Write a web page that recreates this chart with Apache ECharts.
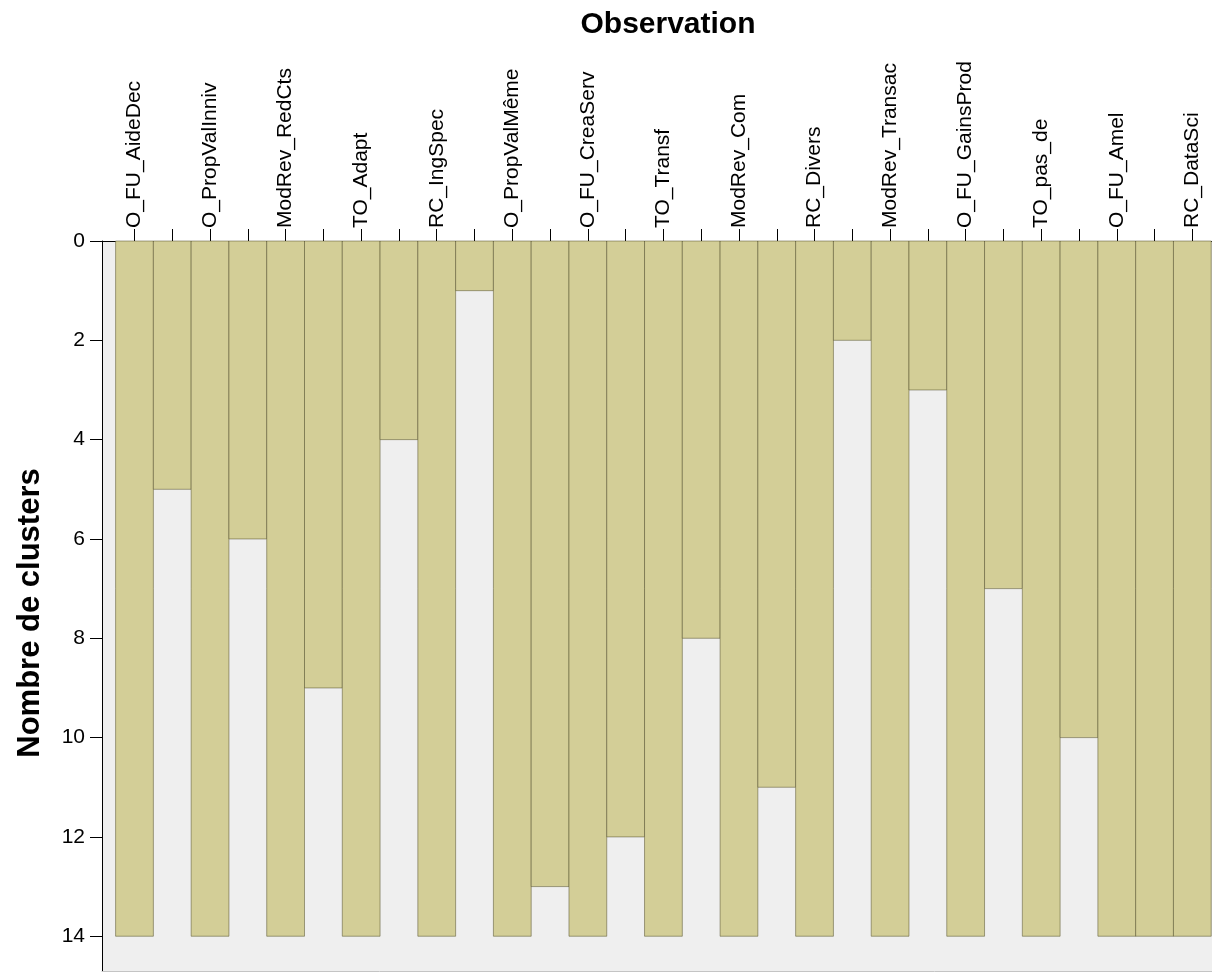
<!DOCTYPE html>
<html>
<head>
<meta charset="utf-8">
<script src="https://cdn.jsdelivr.net/npm/echarts@6/dist/echarts.min.js"></script>
<style>
html,body{margin:0;padding:0;background:#fff;}
#chart{width:1212px;height:972px;}
</style>
</head>
<body>
<div id="chart"></div>
<script>
// Observations in icicle order (left to right)
const observations = ['O_FU_AideDec','O_PropValInniv','ModRev_RedCts','TO_Adapt','RC_IngSpec',
  'O_PropValMême','O_FU_CreaServ','TO_Transf','ModRev_Com','RC_Divers',
  'ModRev_Transac','O_FU_GainsProd','TO_pas_de','O_FU_Amel','RC_DataSci'];
// Number of clusters down to which each adjacent pair stays joined (gap between obs i and i+1)
const joinLevels = [5,6,9,4,1,13,12,8,11,2,3,7,10,14];
const maxClusters = 14;
const yTicks = [0,2,4,6,8,10,12,14];

const FONT = "'Liberation Sans', Arial, sans-serif";

// build columns: even index = observation (full), odd index = joint
const columns = [];
observations.forEach((o, i) => {
  columns.push([2*i, maxClusters]);
  if (i < joinLevels.length) columns.push([2*i+1, joinLevels[i]]);
});
const tickVals = columns.map(c => c[0]);
const labelVals = observations.map((o, i) => 2*i);

const chart = echarts.init(document.getElementById('chart'), null, {renderer:'canvas'});
chart.setOption({
  animation: false,
  backgroundColor: '#ffffff',
  title: {
    text: 'Observation',
    left: 663, top: 5, textAlign: 'center',
    textStyle: {fontFamily: FONT, fontSize: 30, fontWeight: 'bold', color: '#000'}
  },
  grid: {left: 102, right: 0, top: 241, bottom: 1, show: true, backgroundColor: '#efefef', borderWidth: 0},
  xAxis: [{
    type: 'value', position: 'top', min: -0.86, max: 28.52,
    axisLine: {show: true, lineStyle: {color: '#000', width: 1}},
    axisTick: {show: true, length: 12, customValues: tickVals, lineStyle: {color: '#000', width: 1}},
    axisLabel: {
      show: true, rotate: 90, margin: 13, customValues: labelVals,
      formatter: v => observations[Math.round(v/2)],
      fontFamily: FONT, fontSize: 21, color: '#000'
    },
    splitLine: {show: false}
  }, {
    type: 'value', position: 'bottom', min: -0.86, max: 28.52,
    axisLine: {show: true, onZero: false, lineStyle: {color: '#c4c4c4', width: 1}},
    axisTick: {show: false}, axisLabel: {show: false}, splitLine: {show: false}
  }],
  yAxis: {
    type: 'value', inverse: true, min: 0, max: 14.7,
    name: 'Nombre de clusters', nameLocation: 'middle', nameGap: 56, nameRotate: 90,
    nameTextStyle: {fontFamily: FONT, fontSize: 31, fontWeight: 'bold', color: '#000', padding: [0,14,0,0]},
    axisLine: {show: true, onZero: false, lineStyle: {color: '#000', width: 1}},
    axisTick: {show: true, length: 12, customValues: yTicks, lineStyle: {color: '#000'}},
    axisLabel: {customValues: yTicks, margin: 17, fontFamily: FONT, fontSize: 21, color: '#000', padding: [8,0,0,0]},
    splitLine: {show: false}
  },
  series: [{
    type: 'custom',
    xAxisIndex: 0, yAxisIndex: 0,
    data: columns,
    renderItem: function (params, api) {
      const x = api.value(0), v = api.value(1);
      const p0 = api.coord([x - 0.5, 0]);
      const p1 = api.coord([x + 0.5, v]);
      return {
        type: 'rect',
        shape: {x: p0[0], y: p0[1], width: p1[0] - p0[0], height: p1[1] - p0[1]},
        style: {fill: '#d3ce97', stroke: 'rgba(80,75,40,0.5)', lineWidth: 1}
      };
    }
  }]
});
</script>
</body>
</html>
